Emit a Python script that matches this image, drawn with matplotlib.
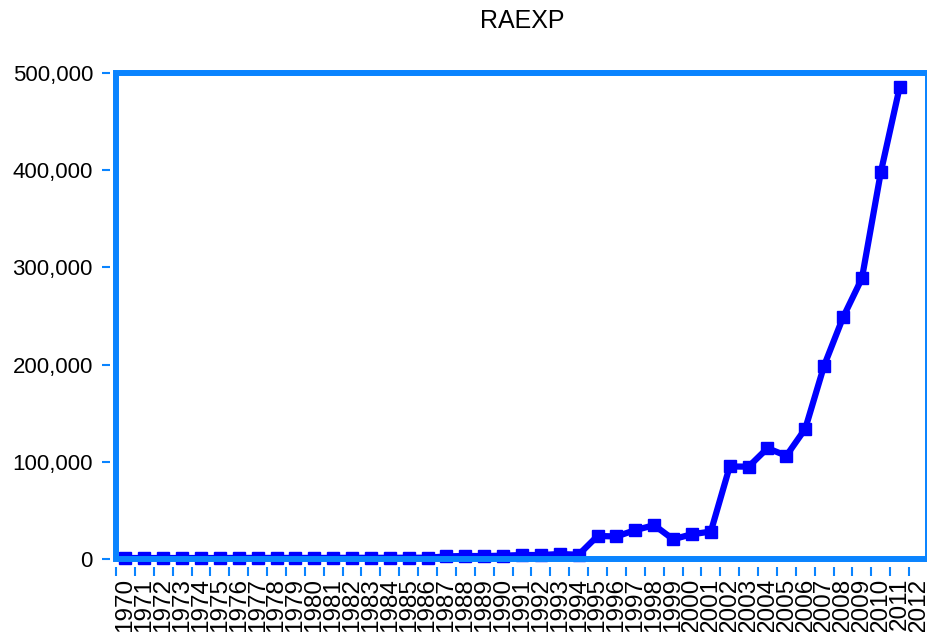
import numpy as np
import matplotlib
matplotlib.use('Agg')
import matplotlib.pyplot as plt
from matplotlib.patches import Rectangle
from matplotlib.ticker import FuncFormatter, FixedLocator

plt.rcParams['font.family'] = ['Liberation Sans', 'DejaVu Sans']

years = [str(y) for y in range(1970, 2013)]
raexp = [1000, 1000, 1000, 1000, 1000, 1000, 1100, 1100, 1100, 1100,
         1100, 1100, 1200, 1200, 1200, 1300, 1300, 2700, 3100, 3000,
         3400, 4100, 4100, 5100, 4400, 23700, 23200, 29700, 34800, 20300,
         25500, 28200, 95200, 95000, 114000, 106200, 134000, 199000, 248500, 288700,
         397800, 485400]
yticks = [0, 100000, 200000, 300000, 400000, 500000]

frame_col = '#0a84ff'
line_col = '#0000ff'

fig = plt.figure(figsize=(9.27, 6.32), dpi=100)
ax = fig.add_axes([116/927, 1-559/632, 812/927, (559-73)/632])

x = np.arange(len(raexp))
ax.plot(x, raexp, color=line_col, lw=4.5, marker='s', ms=9, mfc=line_col, mec=line_col,
        solid_joinstyle='round', zorder=3, clip_on=False)

ax.set_xlim(-0.5, len(years)-0.5)
ax.set_ylim(0, 500000)

ax.set_xticks(np.arange(len(years)))
ax.set_xticklabels(years)
ax.xaxis.set_minor_locator(FixedLocator(np.arange(len(years)) - 0.5))
ax.tick_params(axis='x', which='major', length=0, pad=8, labelrotation=90, labelsize=17.5)
ax.tick_params(axis='x', which='minor', length=6.5, width=1.5, color=frame_col)
ax.set_yticks(yticks)
ax.yaxis.set_major_formatter(FuncFormatter(lambda v, p: f'{int(v):,}'))
ax.tick_params(axis='y', length=5.8, width=1.5, color=frame_col, pad=6.5, labelsize=16)

for s in ['top', 'right']:
    ax.spines[s].set_visible(False)
ax.spines['bottom'].set_position(('outward', 5.5))
ax.spines['left'].set_position(('outward', 4.3))
ax.spines['bottom'].set_color('none')
ax.spines['left'].set_color('none')

ax.add_patch(Rectangle((0, 0), 1, 1, transform=ax.transAxes, fill=False,
                       ec=frame_col, lw=4.3, clip_on=False, zorder=4))

fig.text(522/927, 1-21/632, 'RAEXP', ha='center', va='center', fontsize=18)

fig.savefig('out.png', dpi=100)
